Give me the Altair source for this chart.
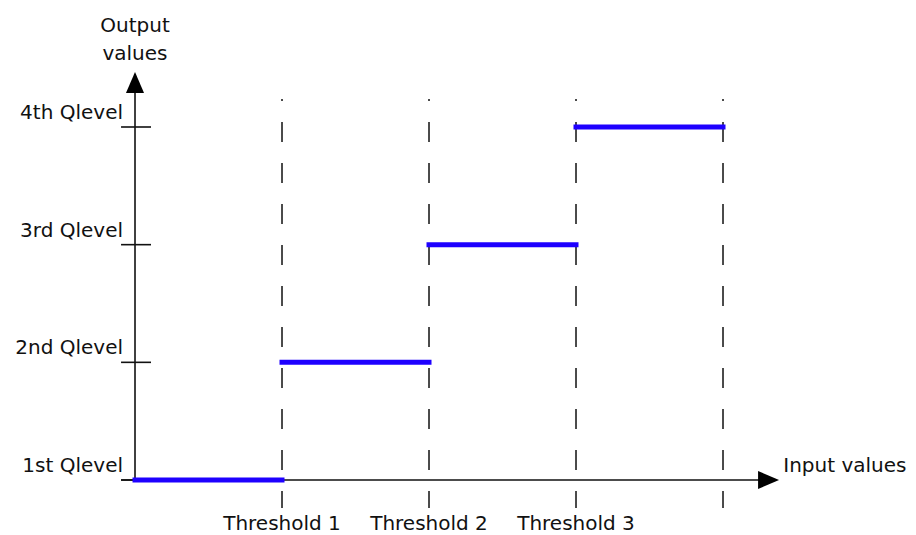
import altair as alt
import pandas as pd

# ---- data ----
level_names = ["1st Qlevel", "2nd Qlevel", "3rd Qlevel", "4th Qlevel"]
level_values = [0, 1, 2, 3]
threshold_names = ["Threshold 1", "Threshold 2", "Threshold 3"]
threshold_values = [1, 2, 3]
step_start = [0, 1, 2, 3]
step_end = [1, 2, 3, 4]
step_level = [0, 1, 2, 3]
dash_positions = [1, 2, 3, 4]

levels = pd.DataFrame({"name": level_names, "level": level_values})
thresholds = pd.DataFrame({"name": threshold_names, "x": threshold_values})
steps = pd.DataFrame({"x": step_start, "x2": step_end, "level": step_level})
dashes = pd.DataFrame({"x": dash_positions})
one = pd.DataFrame({"k": [0]})

W, H = 916, 535
XDOM = [-0.9184, 5.3129]
YDOM = [-0.4674, 4.0793]


def X(f):
    return alt.X(f, type="quantitative", scale=alt.Scale(domain=XDOM, nice=False, zero=False), axis=None)


def Y(f):
    return alt.Y(f, type="quantitative", scale=alt.Scale(domain=YDOM, nice=False, zero=False), axis=None)


FONT = "DejaVu Sans"
FS = 20
INK = "#111111"

# dashed threshold lines
dash_lines = alt.Chart(dashes).transform_calculate(
    top="3.238", bot="-0.238"
).mark_rule(
    color=INK, strokeWidth=1.5, strokeDash=[20, 21], strokeDashOffset=18
).encode(x=X("x"), y=Y("top"), y2="bot:Q")

# axis lines
y_axis_line = alt.Chart(one).transform_calculate(
    x0="0", y0="0", y1="3.45"
).mark_rule(color=INK, strokeWidth=1.6).encode(x=X("x0"), y=Y("y0"), y2="y1:Q")

x_axis_line = alt.Chart(one).transform_calculate(
    x0="-0.095", x1="4.3", y0="0"
).mark_rule(color=INK, strokeWidth=1.6).encode(x=X("x0"), x2="x1:Q", y=Y("y0"))

# level ticks (cross the axis)
ticks = alt.Chart(levels).transform_calculate(
    tl="-0.095", tr="0.109"
).mark_rule(color=INK, strokeWidth=1.6).encode(x=X("tl"), x2="tr:Q", y=Y("level"))

# arrow heads
ARROW = "M0,-1L0.86,1L-0.86,1Z"
y_arrow = alt.Chart(one).transform_calculate(
    ax="0", ay="3.378"
).mark_point(shape=ARROW, filled=True, size=441, color="black", opacity=1).encode(
    x=X("ax"), y=Y("ay")
)
x_arrow = alt.Chart(one).transform_calculate(
    ax="4.31", ay="0"
).mark_point(shape=ARROW, filled=True, size=441, color="black", opacity=1, angle=90).encode(
    x=X("ax"), y=Y("ay")
)

# blue steps
step_lines = alt.Chart(steps).mark_rule(
    color="#1e00ff", strokeWidth=5, strokeCap="square"
).encode(x=X("x"), x2="x2:Q", y=Y("level"))

# labels
level_labels = alt.Chart(levels).transform_calculate(
    lx="0"
).mark_text(
    font=FONT, fontSize=FS, color=INK, align="right", baseline="alphabetic",
    dx=-12, dy=-8,
).encode(x=X("lx"), y=Y("level"), text="name:N")

threshold_labels = alt.Chart(thresholds).transform_calculate(
    ly="0"
).mark_text(
    font=FONT, fontSize=FS, color=INK, align="center", baseline="alphabetic", dy=50,
).encode(x=X("x"), y=Y("ly"), text="name:N")

y_title = alt.Chart(one).transform_calculate(
    tx="0", ty="3.807"
).mark_text(
    font=FONT, fontSize=FS, color=INK, align="center", baseline="alphabetic",
    lineHeight=28, text=["Output", "values"],
).encode(x=X("tx"), y=Y("ty"))

x_title = alt.Chart(one).transform_calculate(
    tx="4.41", ty="0"
).mark_text(
    font=FONT, fontSize=FS, color=INK, align="left", baseline="alphabetic",
    text="Input values", dy=-8,
).encode(x=X("tx"), y=Y("ty"))

chart = alt.layer(
    dash_lines, y_axis_line, x_axis_line, ticks, step_lines,
    y_arrow, x_arrow, level_labels, threshold_labels, y_title, x_title,
).properties(
    width=W, height=H,
    autosize=alt.AutoSizeParams(type="none"),
    padding=0,
    background="white",
).configure_view(strokeWidth=0)

chart.save("out.html", embed_options={"renderer": "svg", "actions": False})
